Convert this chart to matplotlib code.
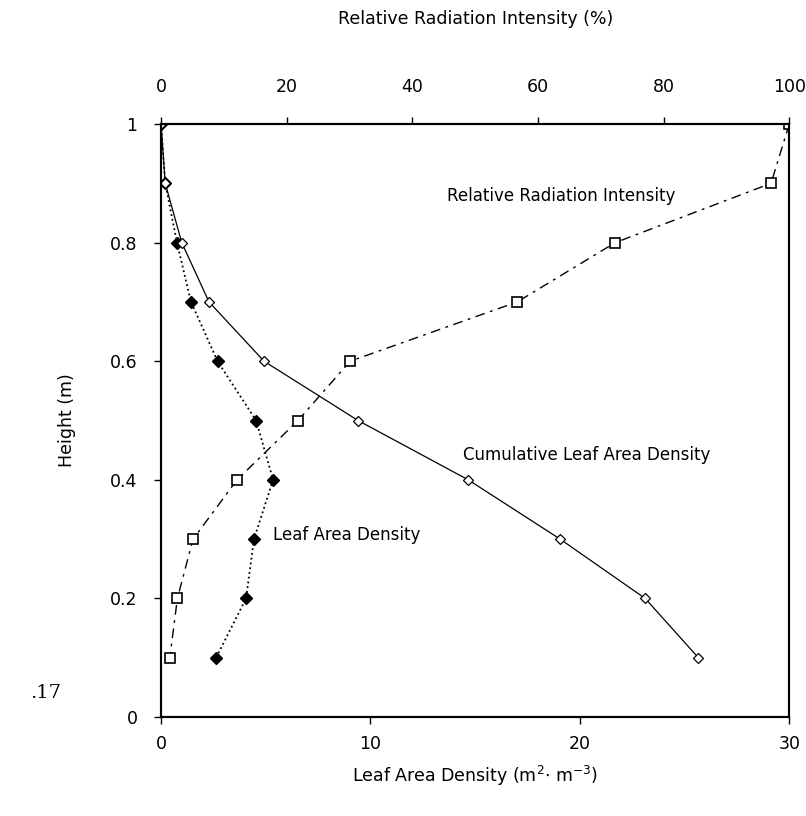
import matplotlib
matplotlib.use('Agg')
import matplotlib.pyplot as plt

# Heights (m) for each measurement level
height = [1.0, 0.9, 0.8, 0.7, 0.6, 0.5, 0.4, 0.3, 0.2, 0.1]

# Leaf area density (m2 m-3)
lad = [0.0, 0.2, 0.76, 1.43, 2.7, 4.54, 5.35, 4.44, 4.06, 2.63]

# Cumulative leaf area density
cum_lad = [0.0, 0.2, 0.99, 2.29, 4.92, 9.41, 14.67, 19.06, 23.12, 25.66]

# Relative radiation intensity (%)
rad = [100.0, 97.1, 72.3, 56.7, 30.1, 21.8, 12.1, 5.1, 2.6, 1.4]

plt.rcParams['font.family'] = ['DejaVu Sans']

fig = plt.figure(figsize=(8.06, 8.16), dpi=100)
ax = fig.add_axes([0.1998, 0.1213, 0.7794, 0.7267])

ax.plot(lad, height, color='black', linestyle=':', linewidth=1.3,
        marker='D', markersize=6.5, markerfacecolor='black', markeredgecolor='black')
ax.plot(cum_lad, height, color='black', linestyle='-', linewidth=0.9,
        marker='D', markersize=5.5, markerfacecolor='white', markeredgecolor='black',
        markeredgewidth=0.9)

ax.set_xlim(0, 30)
ax.set_ylim(0, 1)
ax.set_xticks([0, 10, 20, 30])
ax.set_yticks([0, 0.2, 0.4, 0.6, 0.8, 1.0])
ax.set_yticklabels(['0', '0.2', '0.4', '0.6', '0.8', '1'])
ax.tick_params(axis='both', direction='out', length=5, width=1, labelsize=12.5, pad=8)
ax.tick_params(axis='y', pad=12)
ax.set_xlabel('Leaf Area Density (m$^{2}$$\\cdot$ m$^{-3}$)', fontsize=12.5, labelpad=8)
ax.set_ylabel('Height (m)', fontsize=12.5, labelpad=24)
for s in ax.spines.values():
    s.set_linewidth(1.5)

ax2 = ax.twiny()
ax2.plot(rad, height, color='black', linestyle=(0, (7, 4, 2, 4)), linewidth=1.0,
         marker='s', markersize=6.5, markerfacecolor='white', markeredgecolor='black',
         markeredgewidth=1.2)
ax2.set_xlim(0, 100)
ax2.set_xticks([0, 20, 40, 60, 80, 100])
ax2.tick_params(axis='x', direction='out', length=5, width=1, labelsize=12.5, pad=15)
ax2.set_xlabel('Relative Radiation Intensity (%)', fontsize=12.5, labelpad=39)
for s in ax2.spines.values():
    s.set_linewidth(1.5)

ax.text(0.456, 0.878, 'Relative Radiation Intensity', transform=ax.transAxes,
        fontsize=12, va='center', ha='left')
ax.text(0.481, 0.442, 'Cumulative Leaf Area Density', transform=ax.transAxes,
        fontsize=12, va='center', ha='left')
ax.text(0.178, 0.307, 'Leaf Area Density', transform=ax.transAxes,
        fontsize=12, va='center', ha='left')

fig.text(0.037, 0.151, '.17', fontsize=14, family='DejaVu Serif', va='center', ha='left')

fig.savefig('out.png', dpi=100)
